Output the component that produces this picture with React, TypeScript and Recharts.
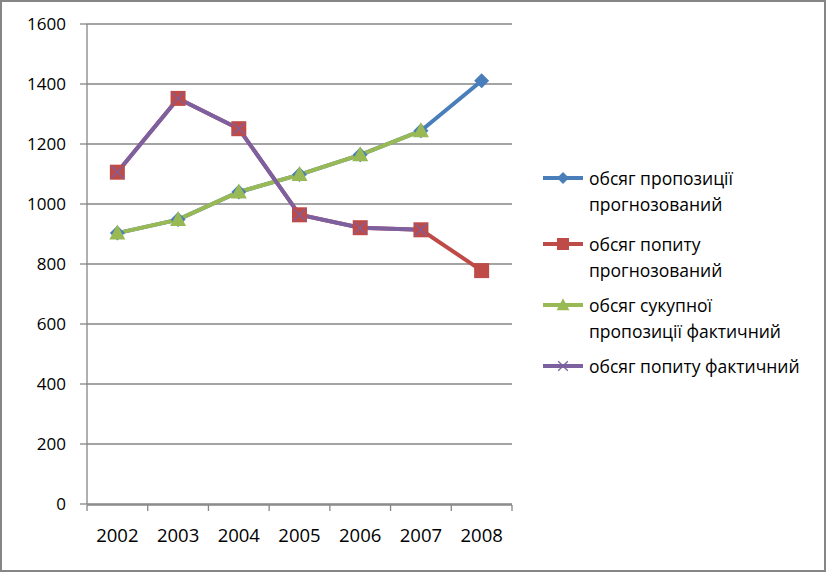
import React from 'react';
import { LineChart, Line, XAxis, YAxis, CartesianGrid, Legend } from 'recharts';

const years = ['2002', '2003', '2004', '2005', '2006', '2007', '2008'];
const supplyForecast = [903, 948, 1040, 1098, 1164, 1244, 1411];
const demandForecast = [1106, 1352, 1251, 964, 921, 914, 778];
const supplyActual = [903, 948, 1040, 1098, 1164, 1244, null];
const demandActual = [1106, 1352, 1251, 964, 921, 914, null];
const yTicks = [0, 200, 400, 600, 800, 1000, 1200, 1400, 1600];
const boundaryTicks = [0, 1, 2, 3, 4, 5, 6, 7];

const seriesNames = [
  'обсяг пропозиції\nпрогнозований',
  'обсяг попиту\nпрогнозований',
  'обсяг сукупної\nпропозиції фактичний',
  'обсяг попиту фактичний',
];
const seriesColors = ['#4A7EBB', '#BE4B48', '#98B954', '#7D60A0'];
const seriesMarkers = ['diamond', 'square', 'triangle', 'x'];

const data = years.map((y, i) => ({
  year: y,
  pos: i + 0.5,
  sf: supplyForecast[i],
  df: demandForecast[i],
  sa: supplyActual[i],
  da: demandActual[i],
}));

const FONT = '"Open Sans", sans-serif';
const GRAY = '#868686';

function Marker({ type, cx, cy, color, s = 1 }: any) {
  if (cx == null || cy == null || isNaN(cx) || isNaN(cy)) return <g />;
  if (type === 'diamond') {
    const r = 7.5 * s;
    return <polygon points={`${cx},${cy - r} ${cx + r},${cy} ${cx},${cy + r} ${cx - r},${cy}`} fill={color} />;
  }
  if (type === 'square') {
    const h = 7.5 * s;
    return <rect x={cx - h} y={cy - h} width={2 * h} height={2 * h} fill={color} />;
  }
  if (type === 'triangle') {
    const w = 8 * s;
    return <polygon points={`${cx},${cy - 8.5 * s} ${cx + w},${cy + 6.5 * s} ${cx - w},${cy + 6.5 * s}`} fill={color} />;
  }
  const h = 6 * s;
  return (
    <path
      d={`M${cx - h},${cy - h}L${cx + h},${cy + h}M${cx + h},${cy - h}L${cx - h},${cy + h}`}
      stroke={color}
      strokeWidth={1.3}
      fill="none"
    />
  );
}

const makeDot = (idx: number) => (props: any) => (
  <g key={`d${idx}-${props.index}`}>
    <Marker type={seriesMarkers[idx]} cx={props.cx} cy={props.cy} color={seriesColors[idx]} />
  </g>
);

function LegendContent() {
  return (
    <div style={{ fontFamily: FONT, fontSize: 17.5, color: '#000' }}>
      {seriesNames.map((n, i) => (
        <div key={i} style={{ display: 'flex', alignItems: 'flex-start', marginBottom: i === 0 ? 14 : 9 }}>
          <svg width={46} height={26} style={{ flexShrink: 0 }}>
            <line x1={0} y1={13} x2={40} y2={13} stroke={seriesColors[i]} strokeWidth={4} />
            <Marker type={seriesMarkers[i]} cx={20} cy={13} color={seriesColors[i]} s={0.8} />
          </svg>
          <div style={{ whiteSpace: 'pre-line', lineHeight: '26px', textAlign: 'left' }}>{n}</div>
        </div>
      ))}
    </div>
  );
}

const hiddenTick = () => <g />;
const GRID_AXIS_LINE = { stroke: GRAY, strokeWidth: 1.3 };
const GRID_TICK_LINE = { stroke: GRAY, strokeWidth: 1.3 };
const X_TICK_STYLE = { fill: '#000', fontSize: 18.5, fontFamily: FONT };
const Y_TICK_STYLE = { fill: '#000', fontSize: 17, fontFamily: FONT };

export default function App() {
  return (
    <div style={{ position: 'absolute', left: 0, top: 0, width: 826, height: 572, background: '#fff' }}>
      <LineChart
        width={826}
        height={572}
        data={data}
        margin={{ top: 24, right: 314, left: 0, bottom: 66 }}
      >
        <CartesianGrid xAxisId="main" vertical={false} stroke={GRAY} strokeWidth={1.3} />
        <XAxis
          xAxisId="ticks"
          dataKey="pos"
          type="number"
          domain={[0, 7]}
          ticks={boundaryTicks}
          interval={0}
          height={1}
          tick={hiddenTick}
          tickSize={6}
          axisLine={GRID_AXIS_LINE}
          tickLine={GRID_TICK_LINE}
          allowDataOverflow
        />
        <XAxis
          xAxisId="main"
          dataKey="year"
          scale="band"
          height={1}
          axisLine={false}
          tickLine={false}
          tickSize={0}
          tickMargin={25}
          interval={0}
          tick={X_TICK_STYLE}
        />
        <YAxis
          width={87}
          domain={[0, 1600]}
          ticks={yTicks}
          interval={0}
          tickSize={7}
          tickMargin={14}
          axisLine={GRID_AXIS_LINE}
          tickLine={GRID_TICK_LINE}
          tick={Y_TICK_STYLE}
        />
        <Legend
          layout="horizontal"
          align="center"
          verticalAlign="middle"
          content={<LegendContent />}
          wrapperStyle={{ position: 'absolute', left: 543, top: 165, width: 280, height: 'auto' }}
        />
        <Line
          xAxisId="main"
          dataKey="sf"
          name={seriesNames[0]}
          stroke={seriesColors[0]}
          strokeWidth={4}
          dot={makeDot(0)}
          activeDot={false}
          isAnimationActive={false}
        />
        <Line
          xAxisId="main"
          dataKey="df"
          name={seriesNames[1]}
          stroke={seriesColors[1]}
          strokeWidth={4}
          dot={makeDot(1)}
          activeDot={false}
          isAnimationActive={false}
        />
        <Line
          xAxisId="main"
          dataKey="sa"
          name={seriesNames[2]}
          stroke={seriesColors[2]}
          strokeWidth={4}
          dot={makeDot(2)}
          activeDot={false}
          isAnimationActive={false}
        />
        <Line
          xAxisId="main"
          dataKey="da"
          name={seriesNames[3]}
          stroke={seriesColors[3]}
          strokeWidth={4}
          dot={makeDot(3)}
          activeDot={false}
          isAnimationActive={false}
        />
      </LineChart>
      <div
        style={{
          position: 'absolute',
          left: 0,
          top: 0,
          width: 826,
          height: 572,
          boxSizing: 'border-box',
          border: `2px solid ${GRAY}`,
          pointerEvents: 'none',
        }}
      />
    </div>
  );
}
